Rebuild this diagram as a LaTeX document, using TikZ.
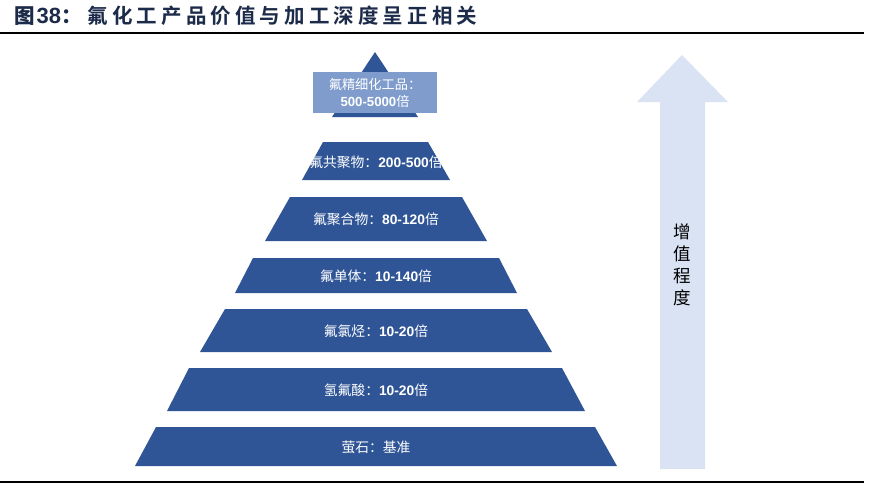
\documentclass[tikz,border=0pt]{standalone}
\usepackage{fontspec}
\setmainfont{Liberation Sans}
\newfontfamily\cjk{Noto Sans CJK SC}
\newfontfamily\cjktitle[LetterSpace=20]{Noto Sans CJK SC Bold}
\definecolor{pyr}{HTML}{2F5597}
\definecolor{pyrtop}{HTML}{7F9CCC}
\definecolor{arrowfill}{HTML}{DAE3F3}
\definecolor{titlec}{HTML}{1C2B4A}
\begin{document}
\begin{tikzpicture}[x=1pt,y=-1pt,
  tier/.style={fill=pyr,draw=none},
  tierlabel/.style={text=white,font=\fontsize{13.8}{15}\selectfont,inner sep=0pt},
  rule/.style={line width=2pt,black}]
\useasboundingbox (0,0) rectangle (880,483);
% title
\node[anchor=west,text=titlec,inner sep=0pt,font=\fontsize{20.5}{22}\selectfont] (title) at (14,16)
  {{\cjk\bfseries 图}\hspace{2pt}{\bfseries\fontsize{22}{22}\selectfont 38}{\cjk\bfseries ：}\hspace{6pt}{\cjktitle 氟化工产品价值与加工深度呈正相关}};
\draw[rule] (0,33) -- (864,33);
\draw[rule,line width=2.5pt] (0,482) -- (864,482);
% arrow
\fill[arrowfill] (660,469) -- (660,102) -- (637,102) -- (682,55) -- (728,102) -- (705,102) -- (705,469) -- cycle;
\node[align=center,inner sep=0pt,font=\cjk\fontsize{17.5}{22}\selectfont] (arrowtext) at (682.5,265) {增\\值\\程\\度};
% pyramid top
\fill[tier] (375,52) -- (418,117) -- (332,117) -- cycle;
\node[fill=pyrtop,minimum width=124pt,minimum height=41pt,inner sep=0pt,text=white,align=center,
  font=\fontsize{13.2}{17}\selectfont] (t1) at (375,92.5)
  {{\cjk 氟精细化工品：}\\{\bfseries 500-5000}{\cjk 倍}};
% tiers
\fill[tier] (323,142) -- (428,142) -- (450,180) -- (302,180) -- cycle;
\node[tierlabel] (t2) at (376,162) {{\cjk 氟共聚物：}{\bfseries 200-500}{\cjk 倍}};
\fill[tier] (290,197) -- (462,197) -- (487,241) -- (265,241) -- cycle;
\node[tierlabel] (t3) at (376,219.5) {{\cjk 氟聚合物：}{\bfseries 80-120}{\cjk 倍}};
\fill[tier] (253,258) -- (499,258) -- (517,293) -- (235,293) -- cycle;
\node[tierlabel] (t4) at (376,276) {{\cjk 氟单体：}{\bfseries 10-140}{\cjk 倍}};
\fill[tier] (225,309) -- (527,309) -- (552,352) -- (200,352) -- cycle;
\node[tierlabel] (t5) at (376,331) {{\cjk 氟氯烃：}{\bfseries 10-20}{\cjk 倍}};
\fill[tier] (189,368) -- (562,368) -- (585,411) -- (167,411) -- cycle;
\node[tierlabel] (t6) at (376,390) {{\cjk 氢氟酸：}{\bfseries 10-20}{\cjk 倍}};
\fill[tier] (156,427) -- (595,427) -- (617,466) -- (135,466) -- cycle;
\node[tierlabel] (t7) at (376,447) {\cjk 萤石：基准};
\end{tikzpicture}
\end{document}
